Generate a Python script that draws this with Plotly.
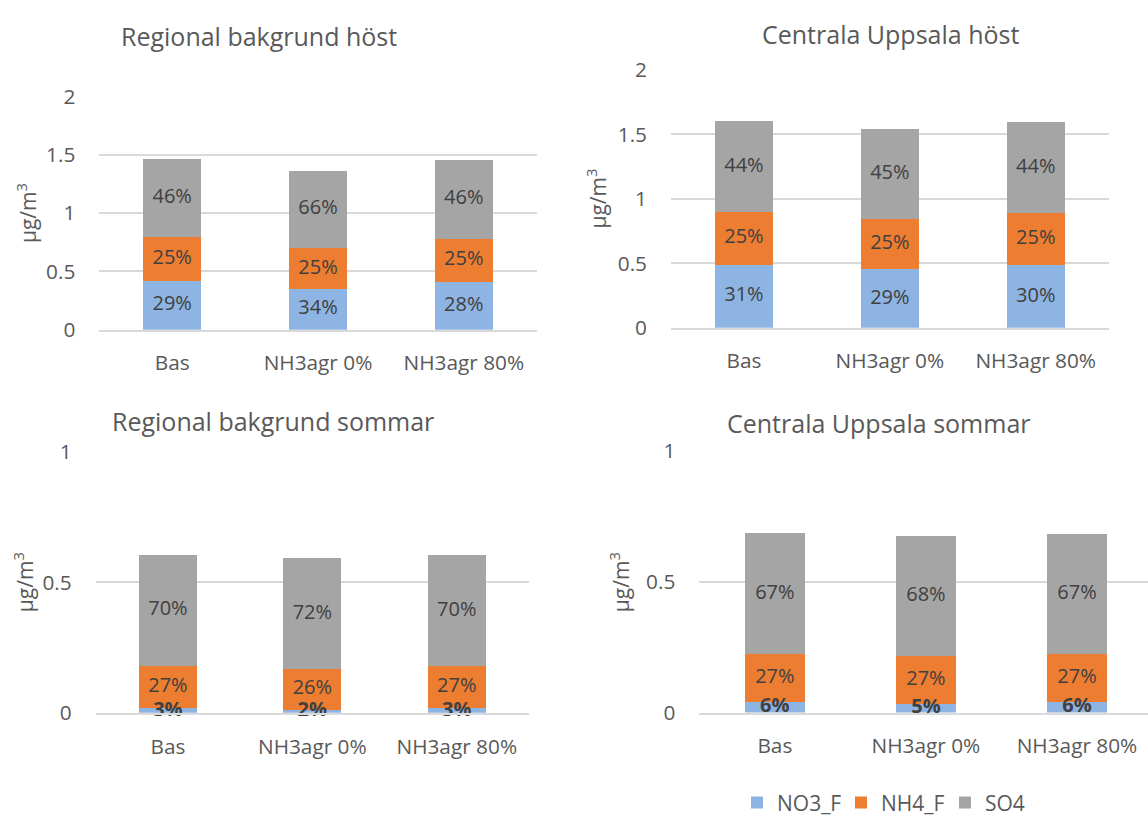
import plotly.graph_objects as go

# Scenario categories on the x axis
categories = ["Bas", "NH3agr 0%", "NH3agr 80%"]
series_names = ["NO3_F", "NH4_F", "SO4"]

# Regional bakgrund höst (µg/m³)
rb_host_no3 = [0.420, 0.350, 0.411]
rb_host_nh4 = [0.372, 0.348, 0.370]
rb_host_so4 = [0.673, 0.665, 0.673]
rb_host_labels_no3 = ["29%", "34%", "28%"]
rb_host_labels_nh4 = ["25%", "25%", "25%"]
rb_host_labels_so4 = ["46%", "66%", "46%"]

# Centrala Uppsala höst (µg/m³)
cu_host_no3 = [0.490, 0.453, 0.485]
cu_host_nh4 = [0.408, 0.390, 0.403]
cu_host_so4 = [0.707, 0.702, 0.710]
cu_host_labels_no3 = ["31%", "29%", "30%"]
cu_host_labels_nh4 = ["25%", "25%", "25%"]
cu_host_labels_so4 = ["44%", "45%", "44%"]

# Regional bakgrund sommar (µg/m³)
rb_sommar_no3 = [0.018, 0.012, 0.017]
rb_sommar_nh4 = [0.161, 0.155, 0.161]
rb_sommar_so4 = [0.426, 0.426, 0.427]
rb_sommar_labels_no3 = ["3%", "2%", "3%"]
rb_sommar_labels_nh4 = ["27%", "26%", "27%"]
rb_sommar_labels_so4 = ["70%", "72%", "70%"]

# Centrala Uppsala sommar (µg/m³)
cu_sommar_no3 = [0.041, 0.033, 0.041]
cu_sommar_nh4 = [0.184, 0.182, 0.1815]
cu_sommar_so4 = [0.459, 0.458, 0.459]
cu_sommar_labels_no3 = ["6%", "5%", "6%"]
cu_sommar_labels_nh4 = ["27%", "27%", "27%"]
cu_sommar_labels_so4 = ["67%", "68%", "67%"]

COLORS = {"NO3_F": "#8EB4E3", "NH4_F": "#ED7D31", "SO4": "#A5A5A5"}
FONT = "Open Sans"
TICK_COLOR = "#595959"
LABEL_COLOR = "#404040"
GRID = "#D9D9D9"

W, H = 1148, 828


def px_x(v):
    return v / W


def px_y(v):
    return 1 - v / H


panels = [
    dict(title="Regional bakgrund höst",
         no3=rb_host_no3, nh4=rb_host_nh4, so4=rb_host_so4,
         lab=(rb_host_labels_no3, rb_host_labels_nh4, rb_host_labels_so4),
         bold_no3=False,
         xdom=(99.3, 536.7), ydom=(325.7, 84.3), yrange=[0, 2], dtick=0.5,
         xrange=[-0.5, 2.5],
         title_xy=(258.5, 22), ytitle_xy=(26, 205)),
    dict(title="Centrala Uppsala höst",
         no3=cu_host_no3, nh4=cu_host_nh4, so4=cu_host_so4,
         lab=(cu_host_labels_no3, cu_host_labels_nh4, cu_host_labels_so4),
         bold_no3=False,
         xdom=(671, 1108.7), ydom=(323.7, 57), yrange=[0, 2], dtick=0.5,
         xrange=[-0.5, 2.5],
         title_xy=(890, 20), ytitle_xy=(597, 190)),
    dict(title="Regional bakgrund sommar",
         no3=rb_sommar_no3, nh4=rb_sommar_nh4, so4=rb_sommar_so4,
         lab=(rb_sommar_labels_no3, rb_sommar_labels_nh4, rb_sommar_labels_so4),
         bold_no3=True,
         xdom=(95.7, 529), ydom=(722.3, 452), yrange=[0, 1], dtick=0.5,
         xrange=[-0.5, 2.5],
         title_xy=(272.5, 420), ytitle_xy=(23, 587)),
    dict(title="Centrala Uppsala sommar",
         no3=cu_sommar_no3, nh4=cu_sommar_nh4, so4=cu_sommar_so4,
         lab=(cu_sommar_labels_no3, cu_sommar_labels_nh4, cu_sommar_labels_so4),
         bold_no3=True,
         xdom=(699.3, 1148), ydom=(722, 451), yrange=[0, 1], dtick=0.5,
         xrange=[-0.5, 2.47],
         title_xy=(879, 422), ytitle_xy=(619, 587)),
]

fig = go.Figure()
annotations = []

for i, p in enumerate(panels, start=1):
    xa = "x" if i == 1 else f"x{i}"
    ya = "y" if i == 1 else f"y{i}"
    stacks = [p["no3"], p["nh4"], p["so4"]]

    # stacked bars
    for name, vals in zip(series_names, stacks):
        fig.add_trace(go.Bar(
            x=categories, y=vals, name=name,
            marker=dict(color=COLORS[name], line=dict(width=0)),
            xaxis=xa, yaxis=ya, showlegend=(i == 1), legendgroup=name,
            hoverinfo="skip",
        ))

    # segment labels at the middle of each stacked segment
    base = [0.0] * len(categories)
    for k, (vals, labels) in enumerate(zip(stacks, p["lab"])):
        mids = [b + v / 2 for b, v in zip(base, vals)]
        base = [b + v for b, v in zip(base, vals)]
        bold = (k == 0 and p["bold_no3"])
        fig.add_trace(go.Scatter(
            x=categories, y=mids, mode="text",
            text=[f"<b>{t}</b>" if bold else t for t in labels],
            textposition="middle center",
            textfont=dict(family=FONT, size=20, color=LABEL_COLOR),
            xaxis=xa, yaxis=ya, showlegend=False, hoverinfo="skip",
            cliponaxis=False,
        ))

    x0, x1 = p["xdom"]
    yb, yt = p["ydom"]
    fig.layout[("xaxis" if i == 1 else f"xaxis{i}")] = dict(
        domain=[px_x(x0), min(1.0, px_x(x1))],
        anchor=ya, type="category", range=p["xrange"],
        showgrid=False, showline=True, linecolor=GRID, linewidth=1.5,
        ticks="", tickfont=dict(family=FONT, size=20.8, color=TICK_COLOR),
        ticklabelstandoff=14, fixedrange=True,
    )
    fig.layout[("yaxis" if i == 1 else f"yaxis{i}")] = dict(
        domain=[px_y(yb), px_y(yt)],
        anchor=xa, range=p["yrange"], dtick=p["dtick"],
        showgrid=True, gridcolor=GRID, gridwidth=1.5, zeroline=False,
        showline=False, ticks="",
        tickfont=dict(family=FONT, size=20.8, color=TICK_COLOR),
        ticklabelstandoff=23, fixedrange=True,
    )

    tx, ty = p["title_xy"]
    annotations.append(dict(
        text=p["title"], xref="paper", yref="paper",
        x=px_x(tx), y=px_y(ty), xanchor="center", yanchor="middle",
        showarrow=False, font=dict(family=FONT, size=25, color=TICK_COLOR),
    ))
    ax, ay = p["ytitle_xy"]
    annotations.append(dict(
        text="µg/m<sup>3</sup>", xref="paper", yref="paper",
        x=px_x(ax), y=px_y(ay), xanchor="center", yanchor="middle",
        textangle=-90, showarrow=False,
        font=dict(family=FONT, size=21, color=TICK_COLOR),
    ))

fig.update_layout(
    width=W, height=H,
    margin=dict(l=0, r=0, t=0, b=0),
    paper_bgcolor="white", plot_bgcolor="white",
    barmode="stack", bargap=0.6,
    font=dict(family=FONT, color=TICK_COLOR),
    annotations=annotations,
    legend=dict(
        orientation="h", x=px_x(737), y=px_y(815.5),
        xanchor="left", yanchor="middle",
        font=dict(family=FONT, size=21, color=TICK_COLOR),
        entrywidth=59, entrywidthmode="pixels",
        traceorder="normal", bgcolor="rgba(0,0,0,0)",
    ),
)

fig.write_html("out.html")
